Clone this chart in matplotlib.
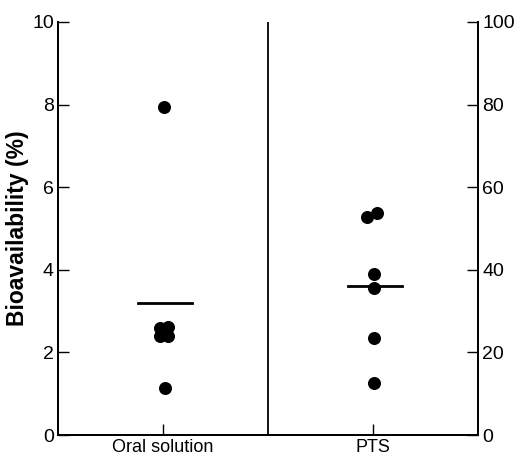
import matplotlib
matplotlib.use("Agg")
import matplotlib.pyplot as plt

plt.rcParams['font.family'] = ['Liberation Sans', 'DejaVu Sans']

# Werte
categories = ['Oral solution', 'PTS']
oral_x = [0.505, 0.485, 0.525, 0.485, 0.525, 0.51]
oral_vals = [7.93, 2.6, 2.62, 2.4, 2.4, 1.14]
oral_mean = 3.19
pts_x = [1.47, 1.52, 1.505, 1.505, 1.505, 1.505]
pts_vals = [52.7, 53.8, 39.1, 35.7, 23.4, 12.7]
pts_mean = 36.2

fig = plt.figure(figsize=(5.18, 4.57), dpi=100)
ax = fig.add_axes([0.112, 0.048, 0.811, 0.904])
ax2 = ax.twinx()

ax.scatter(oral_x, oral_vals, s=70, color='black', zorder=3)
ax.plot([0.38, 0.64], [oral_mean, oral_mean], color='black', lw=2)
ax2.scatter(pts_x, pts_vals, s=70, color='black', zorder=3)
ax2.plot([1.38, 1.64], [pts_mean, pts_mean], color='black', lw=2)

# Trennlinie in der Mitte
ax.axvline(1.0, color='black', lw=1.3)

ax.set_xlim(0, 2)
ax.set_ylim(0, 10)
ax2.set_ylim(0, 100)
ax.set_xticks([0.5, 1.5])
ax.set_xticklabels(categories)
ax.set_yticks(range(0, 11, 2))
ax2.set_yticks(range(0, 101, 20))
ax.set_ylabel('Bioavailability (%)', fontsize=16.5, fontweight='bold', labelpad=2)

for a in (ax, ax2):
    a.spines['top'].set_visible(False)
    for s in a.spines.values():
        s.set_linewidth(1.3)
    a.tick_params(direction='in', length=8, width=1, labelsize=14, pad=3)
ax.tick_params(axis='x', labelsize=13, pad=2.5)

fig.savefig('out.png', dpi=100)
plt.close()
